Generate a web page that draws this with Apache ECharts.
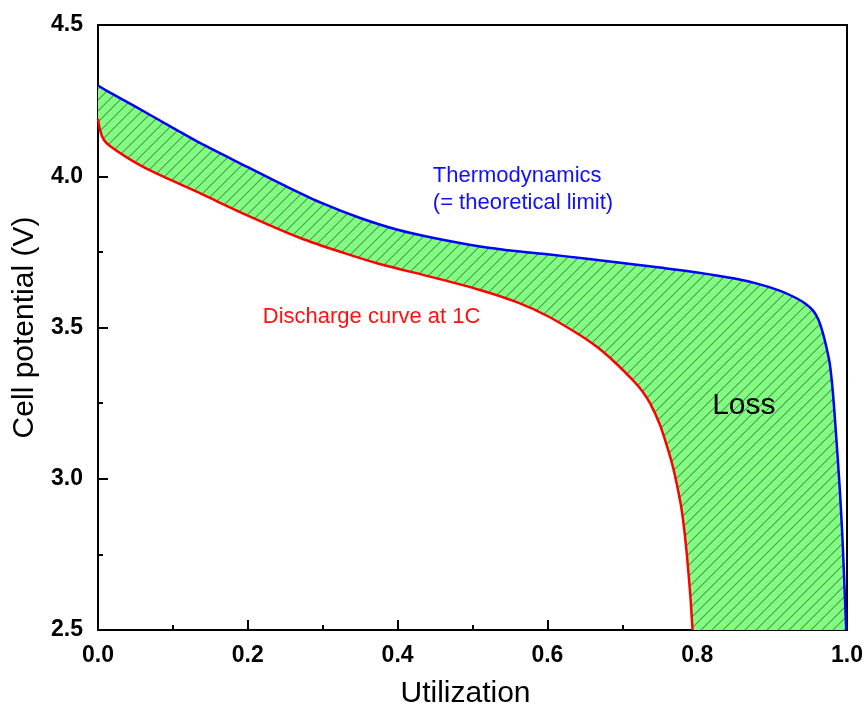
<!DOCTYPE html>
<html>
<head>
<meta charset="utf-8">
<script src="https://cdn.jsdelivr.net/npm/echarts@6/dist/echarts.min.js"></script>
<style>
  html, body { margin: 0; padding: 0; background: #fff; }
  #chart { width: 867px; height: 709px; }
</style>
</head>
<body>
<div id="chart"></div>
<script>
// thermodynamic limit (blue)
const thermoX = [0, 0.01, 0.05, 0.1, 0.136, 0.2, 0.25, 0.3, 0.35, 0.4, 0.45, 0.51, 0.56, 0.6, 0.65, 0.7, 0.75, 0.8, 0.85, 0.88, 0.91, 0.93, 0.945, 0.955, 0.962, 0.968, 0.973, 0.977, 0.981, 0.985, 0.99, 0.994, 0.997, 0.999]
const thermoV = [4.3, 4.285, 4.23, 4.16, 4.11, 4.03, 3.968, 3.91, 3.862, 3.823, 3.795, 3.768, 3.752, 3.742, 3.728, 3.713, 3.698, 3.682, 3.662, 3.645, 3.622, 3.6, 3.578, 3.555, 3.525, 3.48, 3.43, 3.38, 3.29, 3.16, 2.98, 2.8, 2.62, 2.5]

// discharge curve at 1C (red)
const dischargeX = [0, 0.003, 0.008, 0.016, 0.04, 0.069, 0.136, 0.2, 0.27, 0.33, 0.376, 0.45, 0.51, 0.56, 0.6, 0.64, 0.666, 0.69, 0.714, 0.726, 0.737, 0.75, 0.76, 0.768, 0.775, 0.78, 0.785, 0.789, 0.7915, 0.7938]
const dischargeV = [4.19, 4.15, 4.12, 4.1, 4.06, 4.02, 3.944, 3.87, 3.796, 3.745, 3.71, 3.664, 3.624, 3.583, 3.538, 3.48, 3.436, 3.385, 3.326, 3.292, 3.25, 3.18, 3.105, 3.035, 2.955, 2.885, 2.78, 2.67, 2.59, 2.5]

// annotations: [x, y, text, color, fontSize]
const notes = [
  [0.447, 3.955, 'Thermodynamics\n(= theoretical limit)', '#1010ff', 22],
  [0.22, 3.535, 'Discharge curve at 1C', '#ff1010', 22],
  [0.82, 3.24, 'Loss', '#000', 30],
]

const font = "'Liberation Sans', Arial, sans-serif"
const zip = (xs, ys) => xs.map((x, i) => [x, ys[i]])
const thermo = zip(thermoX, thermoV)
const discharge = zip(dischargeX, dischargeV)

// hatch pattern tile
const hatch = (() => {
  const s = 11
  const c = document.createElement('canvas')
  c.width = c.height = s
  const ctx = c.getContext('2d')
  ctx.fillStyle = '#80ff80'
  ctx.fillRect(0, 0, s, s)
  ctx.strokeStyle = '#5a935a'
  ctx.lineWidth = 1.1
  ctx.beginPath()
  ctx.moveTo(-1, s + 1); ctx.lineTo(s + 1, -1)
  ctx.moveTo(-1, 1); ctx.lineTo(1, -1)
  ctx.moveTo(s - 1, s + 1); ctx.lineTo(s + 1, s - 1)
  ctx.stroke()
  return c
})()

const chart = echarts.init(document.getElementById('chart'))

const axisCommon = {
  axisLine: { lineStyle: { color: '#000', width: 2 } },
  axisTick: { inside: true, length: 10, lineStyle: { color: '#000', width: 2 } },
  minorTick: { show: true, splitNumber: 2, length: 5, lineStyle: { color: '#000', width: 2 } },
  splitLine: { show: false },
  axisLabel: { color: '#000', fontSize: 23, fontWeight: 'bold', fontFamily: font, formatter: v => v.toFixed(1) },
  nameLocation: 'middle',
  nameTextStyle: { color: '#000', fontSize: 30, fontFamily: font },
}

chart.setOption({
  animation: false,
  grid: {
    left: 98, right: 20, top: 25, bottom: 79,
    outerBoundsMode: 'none',
    show: true, borderColor: '#000', borderWidth: 2,
  },
  xAxis: {
    ...axisCommon,
    type: 'value', min: 0, max: 1, interval: 0.2,
    name: 'Utilization', nameGap: 49,
    nameTextStyle: { ...axisCommon.nameTextStyle, padding: [0, 14, 0, 0] },
    axisLabel: { ...axisCommon.axisLabel, margin: 14 },
  },
  yAxis: {
    ...axisCommon,
    type: 'value', min: 2.5, max: 4.5, interval: 0.5,
    name: 'Cell potential (V)', nameGap: 56,
    axisLabel: { ...axisCommon.axisLabel, margin: 15 },
  },
  series: [
    {
      // loss area between the curves
      type: 'custom',
      data: [0],
      z: 1,
      renderItem: (params, api) => {
        const pts = thermo.concat(discharge.slice().reverse()).map(p => api.coord(p))
        return { type: 'polygon', shape: { points: pts }, style: { fill: { image: hatch, repeat: 'repeat' }, stroke: null } }
      },
    },
    {
      type: 'line', data: thermo, smooth: 0.3, symbol: 'none', z: 3,
      lineStyle: { color: '#0000ff', width: 2.5 },
    },
    {
      type: 'line', data: discharge, smooth: 0.3, symbol: 'none', z: 3,
      lineStyle: { color: '#ff0000', width: 2.5 },
    },
    {
      type: 'custom',
      data: notes,
      z: 4,
      renderItem: (params, api) => {
        const n = notes[params.dataIndex]
        const [px, py] = api.coord([n[0], n[1]])
        return {
          type: 'text', x: px, y: py,
          style: { text: n[2], fill: n[3], font: `${n[4]}px ${font}`, textVerticalAlign: 'middle', lineHeight: 27 },
        }
      },
    },
  ],
})
</script>
</body>
</html>
